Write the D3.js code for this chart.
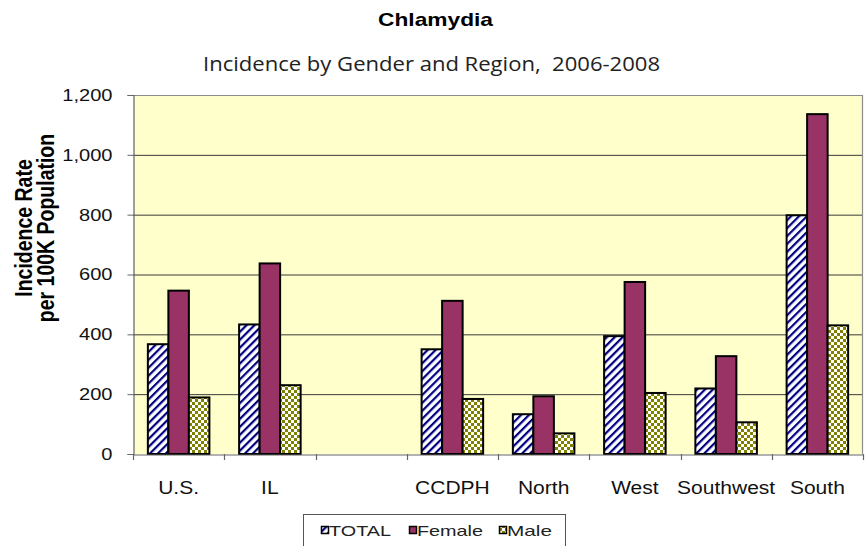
<!DOCTYPE html>
<html>
<head>
<meta charset="utf-8">
<script src="https://cdn.jsdelivr.net/npm/d3@7"></script>
<style>
  html, body { margin: 0; padding: 0; background: #fff; }
  svg { display: block; }
  text { white-space: pre; }
</style>
</head>
<body>
<svg id="chart" width="867" height="546"></svg>
<script>
// ---- data ----
const categories = ["U.S.", "IL", "", "CCDPH", "North", "West", "Southwest", "South"];
const seriesNames = ["TOTAL", "Female", "Male"];
const totalValues  = [367, 433, null, 350, 133, 394, 219, 798];
const femaleValues = [546, 637, null, 512, 193, 575, 327, 1136];
const maleValues   = [189, 230, null, 184, 69, 204, 106, 430];
const yTicks = [0, 200, 400, 600, 800, 1000, 1200];
const titleText = "Chlamydia";
const subtitleText = "Incidence by Gender and Region,  2006-2008";
const yTitleLines = ["Incidence Rate", "per 100K Population"];

const seriesValues = { TOTAL: totalValues, Female: femaleValues, Male: maleValues };

const svg = d3.select("#chart");
const plot = { left: 133, right: 863, top: 95, bottom: 454 };
const FONT = "'Liberation Sans', Arial, sans-serif";

// stretch text horizontally (reference text is rendered wide)
function stretch(sel, k) {
  sel.each(function () {
    const len = this.getComputedTextLength();
    if (len > 0) d3.select(this).attr("textLength", len * k).attr("lengthAdjust", "spacingAndGlyphs");
  });
}

// ---- patterns ----
const defs = svg.append("defs");
const stripe = defs.append("pattern")
  .attr("id", "pTotal").attr("patternUnits", "userSpaceOnUse")
  .attr("width", 5.6).attr("height", 5.6)
  .attr("patternTransform", "rotate(45)");
stripe.append("rect").attr("width", 5.6).attr("height", 5.6).attr("fill", "#ffffff");
stripe.append("rect").attr("width", 2.2).attr("height", 5.6).attr("fill", "#000080");

const check = defs.append("pattern")
  .attr("id", "pMale").attr("patternUnits", "userSpaceOnUse")
  .attr("width", 6).attr("height", 6);
check.append("rect").attr("width", 6).attr("height", 6).attr("fill", "#ffffff");
check.append("rect").attr("width", 3).attr("height", 3).attr("fill", "#808000");
check.append("rect").attr("x", 3).attr("y", 3).attr("width", 3).attr("height", 3).attr("fill", "#808000");

const fills = { TOTAL: "url(#pTotal)", Female: "#993366", Male: "url(#pMale)" };

// ---- scales ----
const x = d3.scaleBand().domain(categories).range([plot.left, plot.right]).paddingInner(0).paddingOuter(0);
const xs = d3.scaleBand().domain(seriesNames).range([0, x.bandwidth()]).paddingInner(0).paddingOuter(0.725);
const y = d3.scaleLinear().domain([0, 1200]).range([plot.bottom, plot.top]);

// ---- plot background ----
svg.append("rect")
  .attr("x", plot.left).attr("y", plot.top)
  .attr("width", plot.right - plot.left).attr("height", plot.bottom - plot.top)
  .attr("fill", "#FFFFCC");

// gridlines
svg.append("g").selectAll("line").data(yTicks.filter(d => d > 0)).join("line")
  .attr("x1", plot.left).attr("x2", plot.right)
  .attr("y1", d => y(d) + 0.5).attr("y2", d => y(d) + 0.5)
  .attr("stroke", "#3a3a3a").attr("stroke-width", 1);

// plot border top/right
svg.append("path")
  .attr("d", `M${plot.left},${plot.top + 0.5}H${plot.right - 0.5}V${plot.bottom}`)
  .attr("fill", "none").attr("stroke", "#8c8c8c").attr("stroke-width", 1.2);

// ---- bars ----
const barData = [];
categories.forEach((c, i) => {
  seriesNames.forEach(s => {
    const v = seriesValues[s][i];
    if (v != null) barData.push({ c, s, v });
  });
});
svg.append("g").selectAll("rect").data(barData).join("rect")
  .attr("x", d => x(d.c) + xs(d.s))
  .attr("y", d => y(d.v))
  .attr("width", xs.bandwidth())
  .attr("height", d => y(0) - y(d.v))
  .attr("fill", d => fills[d.s])
  .attr("stroke", "#000").attr("stroke-width", 2);

// ---- y axis ----
const yAxis = d3.axisLeft(y).tickValues(yTicks).tickSize(6).tickPadding(15)
  .tickFormat(d3.format(","));
const gy = svg.append("g").attr("transform", `translate(${plot.left + 0.5},0)`).call(yAxis);
gy.select(".domain").attr("stroke", "#666").attr("stroke-width", 1.2);
gy.selectAll(".tick line").attr("stroke", "#666");
gy.selectAll(".tick text").attr("font-family", FONT)
  .attr("font-size", 17).attr("fill", "#111");
stretch(gy.selectAll(".tick text"), 1.18);

// ---- x axis ----
const xAxis = d3.axisBottom(x).tickSize(0).tickPadding(0);
const gx = svg.append("g").attr("transform", `translate(0,${plot.bottom + 0.5})`).call(xAxis);
gx.select(".domain").attr("stroke", "#666").attr("stroke-width", 1.2);
gx.selectAll(".tick text").attr("font-family", FONT)
  .attr("font-size", 17.5).attr("fill", "#111").attr("dy", 0).attr("y", 39);
stretch(gx.selectAll(".tick text"), 1.2);
// category boundary ticks
const bounds = categories.map(c => x(c)).concat([x(categories[categories.length - 1]) + x.bandwidth()]);
svg.append("g").selectAll("line").data(bounds).join("line")
  .attr("x1", d => Math.round(d) + 0.5).attr("x2", d => Math.round(d) + 0.5)
  .attr("y1", plot.bottom).attr("y2", plot.bottom + 6)
  .attr("stroke", "#666").attr("stroke-width", 1.2);

// ---- titles ----
svg.append("text").attr("x", 435.5).attr("y", 26).attr("text-anchor", "middle")
  .attr("font-family", FONT).attr("font-weight", "bold")
  .attr("font-size", 19).attr("fill", "#000")
  .attr("textLength", 115).attr("lengthAdjust", "spacingAndGlyphs")
  .text(titleText);
svg.append("text").attr("x", 431.5).attr("y", 71).attr("text-anchor", "middle")
  .attr("xml:space", "preserve")
  .attr("font-family", "'Open Sans', 'Noto Sans', sans-serif")
  .attr("font-size", 20).attr("fill", "#222")
  .attr("textLength", 457).attr("lengthAdjust", "spacingAndGlyphs")
  .text(subtitleText);

// y axis title (rotated, stretched across its glyph height like the reference)
const yt = svg.append("text")
  .attr("transform", "translate(0,228) scale(1.2,1) rotate(-90)")
  .attr("text-anchor", "middle")
  .attr("font-family", FONT).attr("font-weight", "bold")
  .attr("font-size", 19.5).attr("fill", "#000");
yt.selectAll("tspan").data(yTitleLines).join("tspan")
  .attr("x", 0).attr("y", (d, i) => 26.5 + i * 18.5)
  .text(d => d);

// ---- legend ----
const lg = svg.append("g");
lg.append("rect").attr("x", 303.5).attr("y", 514.5).attr("width", 262).attr("height", 40)
  .attr("fill", "#fff").attr("stroke", "#555").attr("stroke-width", 1);
const legendX = { TOTAL: 321, Female: 409, Male: 499 };
const legendW = { TOTAL: 62, Female: 66, Male: 45 };
const items = lg.selectAll("g.item").data(seriesNames).join("g").attr("class", "item")
  .attr("transform", d => `translate(${legendX[d]},0)`);
items.append("rect").attr("x", 0.5).attr("y", 526.5).attr("width", 7).attr("height", 7)
  .attr("fill", d => fills[d]).attr("stroke", "#000").attr("stroke-width", 1.5);
items.append("text").attr("x", 8).attr("y", 536)
  .attr("font-family", FONT).attr("font-size", 14.5)
  .attr("fill", "#222")
  .attr("textLength", d => legendW[d]).attr("lengthAdjust", "spacingAndGlyphs")
  .text(d => d);
</script>
</body>
</html>
